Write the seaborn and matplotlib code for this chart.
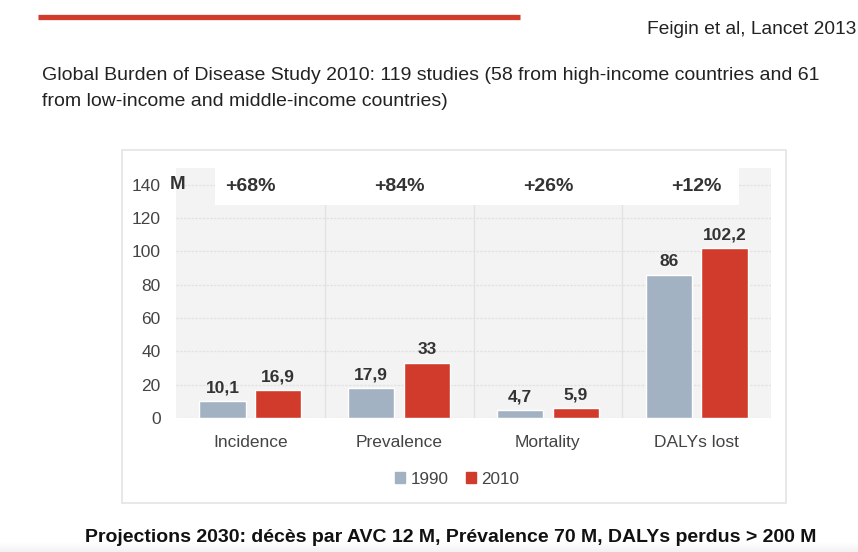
import numpy as np
import pandas as pd
import seaborn as sns
import matplotlib.pyplot as plt
from matplotlib.patches import Rectangle
from matplotlib.lines import Line2D

# values (millions)
categories = ["Incidence", "Prevalence", "Mortality", "DALYs lost"]
years = ["1990", "2010"]
values_1990 = [10.1, 17.9, 4.7, 86]
values_2010 = [16.9, 33, 5.9, 102.2]
changes = ["+68%", "+84%", "+26%", "+12%"]
y_ticks = [0, 20, 40, 60, 80, 100, 120, 140]

colors = {"1990": "#a3b2c3", "2010": "#d13b2b"}
RED = "#d13b2b"

df = pd.DataFrame({
    "category": categories * 2,
    "year": [years[0]] * 4 + [years[1]] * 4,
    "value": values_1990 + values_2010,
})

sns.set_theme(style="white")
plt.rcParams["font.family"] = ["Liberation Sans", "DejaVu Sans"]

W, H = 858, 552
fig = plt.figure(figsize=(W / 100, H / 100), dpi=100)


def fx(px):
    return px / W


def fy(py):
    return 1 - py / H


# faint grey fade along the bottom edge of the slide
fade = fig.add_axes([0, 0, 1, fy(542)], zorder=-1)
fade.imshow(np.linspace(0, 1, 20).reshape(-1, 1), aspect="auto", cmap="Greys",
            vmin=0, vmax=9, extent=(0, 1, 0, 1))
fade.axis("off")

# red bar at the top of the slide
fig.add_artist(Line2D([fx(38), fx(520)], [fy(17), fy(17)], color=RED, lw=3.8,
                      solid_capstyle="butt"))
fig.text(fx(856), fy(30), "Feigin et al, Lancet 2013", fontsize=13.8, color="#222222",
         va="center", ha="right")
fig.text(fx(42), fy(75),
         "Global Burden of Disease Study 2010: 119 studies (58 from high-income countries and 61",
         fontsize=14, color="#222222", va="center")
fig.text(fx(42), fy(101), "from low-income and middle-income countries)",
         fontsize=14, color="#222222", va="center")

# white card behind the chart
fig.add_artist(Rectangle((fx(122), fy(503)), fx(786) - fx(122), fy(150) - fy(503),
                         transform=fig.transFigure, facecolor="white",
                         edgecolor="#e4e4e4", lw=1.2, zorder=0))

ax = fig.add_axes([fx(176), fy(418), fx(771) - fx(176), fy(168) - fy(418)])
ax.set_facecolor("#f3f3f3")
ax.set_axisbelow(True)

sns.barplot(data=df, x="category", y="value", hue="year", palette=colors,
            width=0.75, gap=0.17, saturation=1, ax=ax, legend=False)

ax.set_ylim(0, 150)
ax.set_xlim(-0.5, 3.5)
ax.set_yticks(y_ticks)
ax.yaxis.grid(True, color="#e2e2e2", lw=0.9, ls=(0, (2, 1)))
for xb in [0.5, 1.5, 2.5]:
    ax.axvline(xb, color="#e2e2e2", lw=0.9, zorder=0.5)

for sp in ax.spines.values():
    sp.set_visible(False)
ax.tick_params(axis="both", length=0, labelsize=12.5, labelcolor="#444444")
ax.tick_params(axis="y", pad=11)
ax.tick_params(axis="x", pad=12)
ax.set_xlabel("")
ax.set_ylabel("")

# value labels with comma decimals
for cont in ax.containers:
    labels = [f"{v:g}".replace(".", ",") for v in cont.datavalues]
    ax.bar_label(cont, labels=labels, padding=4, fontsize=12.5, fontweight="bold",
                 color="#333333")

# white band holding the percentage changes
ax.add_patch(Rectangle((0.066, 128 / 150), 0.88, 1 - 128 / 150, transform=ax.transAxes,
                       facecolor="white", edgecolor="none", zorder=1.5))
for i, c in enumerate(changes):
    ax.text(i, 139, c, ha="center", va="center", fontsize=14, color="#333333",
            fontweight="semibold", zorder=3)
ax.annotate("M", xy=(0, 140), xycoords=("axes fraction", "data"), xytext=(-6, 0),
            textcoords="offset pixels", ha="left", va="center", fontsize=13.5,
            fontweight="bold", color="#333333", zorder=3)

handles = [Rectangle((0, 0), 1, 1, color=colors[y]) for y in years]
fig.legend(handles, years, loc="center", bbox_to_anchor=(fx(457), fy(479)), ncol=2,
           frameon=False, fontsize=12.3, handlelength=0.6, handleheight=0.6,
           handletextpad=0.3, columnspacing=1.0, labelcolor="#444444")

fig.text(fx(451), fy(538),
         "Projections 2030: décès par AVC 12 M, Prévalence 70 M, DALYs perdus > 200 M",
         fontsize=14, fontweight="bold", color="#111111", ha="center", va="center")

fig.savefig("out.png", dpi=100, facecolor="white")
